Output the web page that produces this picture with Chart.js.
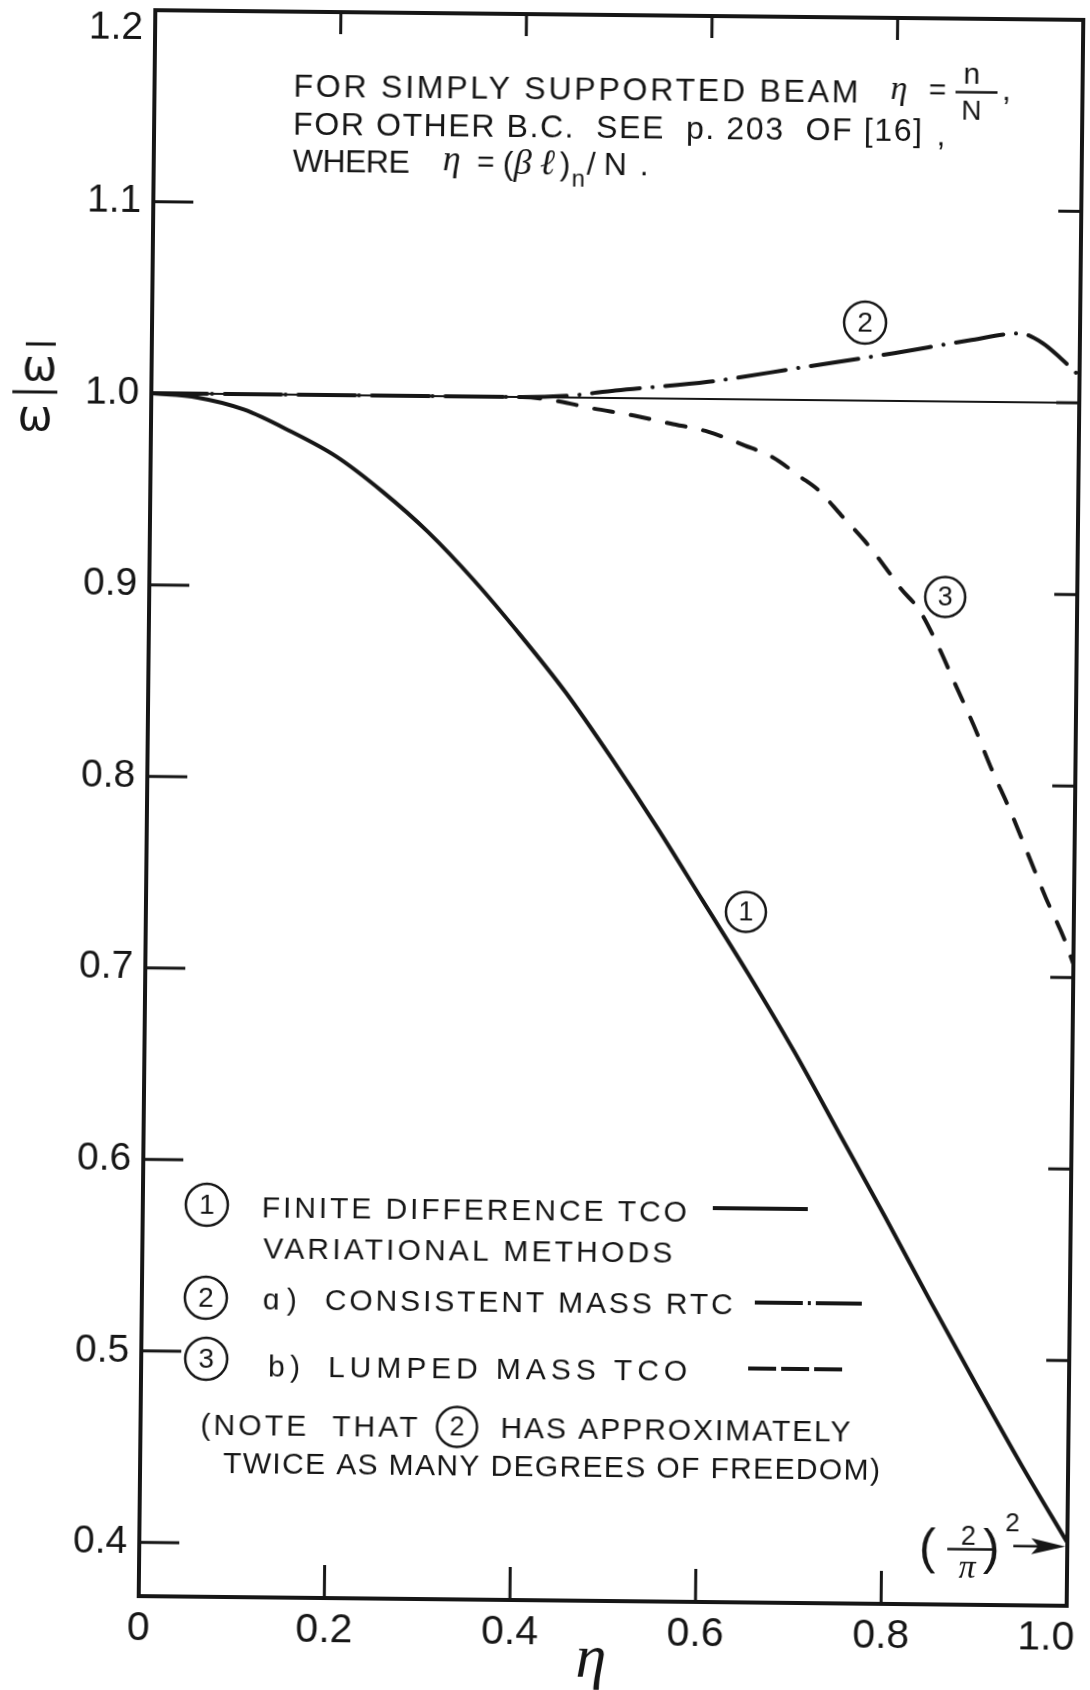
<!DOCTYPE html>
<html>
<head>
<meta charset="utf-8">
<title>Frequency ratio of discrete beam models</title>
<script src="https://cdn.jsdelivr.net/npm/chart.js"></script>
<style>
  html, body { margin: 0; padding: 0; background: #fff; overflow: hidden; }
  /* the plate sits a little skewed on the page */
  #plot { display: block; transform: rotate(0.6deg); transform-origin: 611px 808px; }
</style>
</head>
<body>
<canvas id="plot" width="1090" height="1690"></canvas>
<script>
// axis ticks
const xTicks = [0, 0.2, 0.4, 0.6, 0.8, 1.0];
const xTickLabels = ['0', '0.2', '0.4', '0.6', '0.8', '1.0'];
const yTicks = [0.4, 0.5, 0.6, 0.7, 0.8, 0.9, 1.0, 1.1, 1.2];
const yTickLabels = ['0.4', '0.5', '0.6', '0.7', '0.8', '0.9', '1.0', '1.1', '1.2'];

// (1) finite difference TCO / variational methods
const etaFD = [0, 0.05, 0.1, 0.15, 0.2, 0.25, 0.3, 0.35, 0.4, 0.45, 0.5, 0.55, 0.6, 0.65, 0.7, 0.75, 0.8, 0.85, 0.9, 0.95, 1.0];
const ratioFD = [1.000, 0.998, 0.992, 0.981, 0.968, 0.950, 0.929, 0.904, 0.876, 0.846, 0.812, 0.776, 0.738, 0.700, 0.660, 0.617, 0.574, 0.530, 0.487, 0.445, 0.405];

// (2) consistent mass RTC
const etaCM = [0, 0.1, 0.2, 0.3, 0.4, 0.45, 0.5, 0.6, 0.7, 0.8, 0.88, 0.935, 0.96, 0.98, 1.0];
const ratioCM = [1.000, 1.000, 1.000, 1.000, 1.000, 1.001, 1.004, 1.009, 1.017, 1.025, 1.032, 1.036, 1.031, 1.023, 1.014];

// (3) lumped mass TCO
const etaLM = [0, 0.2, 0.4, 0.44, 0.47, 0.52, 0.56, 0.6, 0.64, 0.67, 0.7, 0.72, 0.745, 0.77, 0.79, 0.81, 0.83, 0.85, 0.87, 0.89, 0.91, 0.93, 0.95, 0.97, 0.99, 1.0];
const ratioLM = [1.000, 1.000, 1.000, 0.998, 0.995, 0.991, 0.987, 0.983, 0.976, 0.970, 0.960, 0.953, 0.940, 0.927, 0.915, 0.902, 0.891, 0.873, 0.852, 0.831, 0.808, 0.787, 0.764, 0.741, 0.720, 0.707];

// exact ratio
const etaUnity = [0, 1];
const ratioUnity = [1, 1];

const INK = '#161616';
const SANS = '"Liberation Sans", Arial, sans-serif';
const SERIF = '"Liberation Serif", "Times New Roman", serif';

const pts = (xs, ys) => xs.map((x, i) => ({ x, y: ys[i] }));

// draw a string stretched between x0 and x1 with letter spacing
function spaced(ctx, str, x0, x1, y) {
  ctx.letterSpacing = '0px';
  const w = ctx.measureText(str).width;
  const n = [...str].length;
  const ls = n > 1 ? (x1 - x0 - w) / (n - 1) : 0;
  ctx.letterSpacing = ls.toFixed(2) + 'px';
  ctx.textAlign = 'left';
  ctx.fillText(str, x0, y);
  ctx.letterSpacing = '0px';
}

function circled(ctx, label, x, y, r, size) {
  ctx.save();
  ctx.lineWidth = 2.5;
  ctx.setLineDash([]);
  ctx.beginPath();
  ctx.arc(x, y, r, 0, Math.PI * 2);
  ctx.stroke();
  ctx.font = size + 'px ' + SANS;
  ctx.textAlign = 'center';
  ctx.textBaseline = 'middle';
  ctx.fillText(label, x, y + 1);
  ctx.restore();
}

function hline(ctx, x0, x1, y, width, dash) {
  ctx.save();
  ctx.lineWidth = width;
  ctx.setLineDash(dash || []);
  ctx.beginPath();
  ctx.moveTo(x0, y);
  ctx.lineTo(x1, y);
  ctx.stroke();
  ctx.restore();
}

const framePlugin = {
  id: 'frame',
  afterDraw(chart) {
    const { ctx, chartArea: a, scales: { x, y } } = chart;
    ctx.save();
    ctx.strokeStyle = INK;
    ctx.fillStyle = INK;

    // box
    ctx.lineWidth = 4;
    ctx.strokeRect(a.left, a.top, a.right - a.left, a.bottom - a.top);

    // inward tick marks
    ctx.lineWidth = 3;
    ctx.beginPath();
    xTicks.slice(1, -1).forEach(v => {
      const p = x.getPixelForValue(v);
      ctx.moveTo(p, a.bottom); ctx.lineTo(p, a.bottom - 33);
      ctx.moveTo(p, a.top); ctx.lineTo(p, a.top + 22);
    });
    yTicks.slice(0, -1).forEach(v => {
      const p = y.getPixelForValue(v);
      ctx.moveTo(a.left, p); ctx.lineTo(a.left + 40, p);
    });
    yTicks.slice(1, -1).forEach(v => {
      const p = y.getPixelForValue(v);
      ctx.moveTo(a.right, p); ctx.lineTo(a.right - 23, p);
    });
    ctx.stroke();

    // note at the top
    ctx.font = '32px ' + SANS;
    spaced(ctx, 'FOR SIMPLY SUPPORTED BEAM', 286, 851, 100);
    ctx.font = 'italic 34px ' + SERIF;
    ctx.fillText('η', 883, 96);
    ctx.font = '30px ' + SANS;
    ctx.textAlign = 'center';
    ctx.fillText('=', 930, 96);
    ctx.fillText('n', 964, 80);
    ctx.font = '28px ' + SANS;
    ctx.fillText('N', 964, 116);
    hline(ctx, 948, 990, 88.5, 2.5);
    ctx.font = '32px ' + SANS;
    ctx.fillText(',', 999, 96);

    spaced(ctx, 'FOR OTHER B.C.  SEE  p. 203  OF [16]', 286, 915, 138);
    ctx.textAlign = 'center';
    ctx.fillText(',', 934, 142);

    spaced(ctx, 'WHERE', 286, 403, 175);
    ctx.font = 'italic 36px ' + SERIF;
    ctx.textAlign = 'left';
    ctx.fillText('η', 436, 172);
    ctx.font = '30px ' + SANS;
    ctx.textAlign = 'center';
    ctx.fillText('=', 479, 173);
    ctx.font = '32px ' + SANS;
    ctx.textAlign = 'left';
    ctx.fillText('(', 496, 175);
    ctx.font = 'italic 36px ' + SERIF;
    spaced(ctx, 'βℓ', 507, 548, 175);
    ctx.font = '32px ' + SANS;
    ctx.fillText(')', 553, 175);
    ctx.font = '24px ' + SANS;
    ctx.fillText('n', 565, 187);
    ctx.font = '32px ' + SANS;
    spaced(ctx, '/N', 580, 620, 175);
    ctx.fillText('.', 633, 175);

    // key
    ctx.font = '30px ' + SANS;
    circled(ctx, '1', 211, 1209, 21, 28);
    spaced(ctx, 'FINITE DIFFERENCE TCO', 266, 691, 1221);
    spaced(ctx, 'VARIATIONAL METHODS', 268, 677, 1262);
    circled(ctx, '2', 211, 1302, 21, 28);
    spaced(ctx, 'ɑ)', 268, 302, 1313);
    spaced(ctx, 'CONSISTENT MASS RTC', 330, 738, 1313);
    circled(ctx, '3', 212, 1363, 21, 28);
    spaced(ctx, 'b)', 274, 306, 1380);
    spaced(ctx, 'LUMPED MASS TCO', 334, 693, 1380);
    spaced(ctx, '(NOTE  THAT', 207, 424, 1439);
    circled(ctx, '2', 463.5, 1428.5, 20, 27);
    spaced(ctx, 'HAS APPROXIMATELY', 507, 857, 1439);
    spaced(ctx, 'TWICE AS MANY DEGREES OF FREEDOM)', 230, 887, 1477);

    hline(ctx, 717, 812, 1207, 4);
    hline(ctx, 760, 867, 1301, 4, [48, 5, 3, 5]);
    hline(ctx, 754, 848, 1367, 4, [28, 5]);

    // curve tags
    circled(ctx, '1', 747, 910.5, 20, 27);
    circled(ctx, '2', 860, 320, 21, 28);
    circled(ctx, '3', 943, 593.5, 20, 27);

    // limit of curve (1): (2/pi)^2
    ctx.textAlign = 'center';
    ctx.font = '50px ' + SANS;
    ctx.fillText('(', 935, 1560);
    ctx.fillText(')', 999, 1560);
    ctx.font = '27px ' + SANS;
    ctx.fillText('2', 976, 1541);
    hline(ctx, 955, 1000, 1545.5, 2.5);
    ctx.font = 'italic 34px ' + SERIF;
    ctx.fillText('π', 975, 1574);
    ctx.font = '26px ' + SANS;
    ctx.fillText('2', 1020, 1527);
    const yA = y.getPixelForValue(ratioFD[ratioFD.length - 1]) + 4;
    const xA = a.right - 2;
    hline(ctx, 1021, xA - 20, yA, 2.5);
    ctx.beginPath();
    ctx.moveTo(xA, yA);
    ctx.lineTo(xA - 34, yA - 8);
    ctx.lineTo(xA - 27, yA);
    ctx.lineTo(xA - 34, yA + 8);
    ctx.closePath();
    ctx.fill();

    // axis titles
    ctx.font = '42px "DejaVu Sans", ' + SANS;
    ctx.fillText('ω', 35, 386);
    ctx.fillText('ω', 31, 436);
    hline(ctx, 21, 51, 350, 3);
    hline(ctx, 8, 53, 398, 3);
    ctx.font = 'italic 62px ' + SERIF;
    ctx.fillText('η', 600, 1677);

    ctx.restore();
  }
};

new Chart(document.getElementById('plot'), {
  type: 'line',
  data: {
    datasets: [
      { data: pts(etaUnity, ratioUnity), borderColor: INK, borderWidth: 2 },
      { data: pts(etaFD, ratioFD), borderColor: INK, borderWidth: 4,
        cubicInterpolationMode: 'monotone' },
      { data: pts(etaCM, ratioCM), borderColor: INK, borderWidth: 4,
        borderDash: [48, 12.7, 0.1, 12.7], borderCapStyle: 'round',
        cubicInterpolationMode: 'monotone' },
      { data: pts(etaLM, ratioLM), borderColor: INK, borderWidth: 4,
        borderDash: [19, 18], borderCapStyle: 'round',
        cubicInterpolationMode: 'monotone' }
    ]
  },
  options: {
    responsive: false,
    animation: false,
    devicePixelRatio: 1,
    layout: { padding: { top: 15, right: 15, left: 0, bottom: 0 } },
    elements: { point: { radius: 0 } },
    plugins: { legend: { display: false }, tooltip: { enabled: false } },
    scales: {
      x: {
        type: 'linear', min: 0, max: 1,
        grid: { display: false, drawTicks: false },
        border: { display: false },
        afterBuildTicks: s => { s.ticks = xTicks.map(v => ({ value: v })); },
        afterFit: s => { s.height = 89; s.paddingLeft = 0; s.paddingRight = 0; },
        ticks: {
          autoSkip: false, maxRotation: 0, padding: 8, color: INK,
          font: { family: SANS, size: 41 },
          callback: v => {
            const i = xTicks.indexOf(v);
            return i === xTicks.length - 1 ? xTickLabels[i] + '\u2003' : xTickLabels[i];
          }
        }
      },
      y: {
        type: 'linear', min: 0.372, max: 1.2,
        grid: { display: false, drawTicks: false },
        border: { display: false },
        afterBuildTicks: s => { s.ticks = yTicks.map(v => ({ value: v })); },
        afterFit: s => { s.width = 147; s.paddingTop = 0; s.paddingBottom = 0; },
        ticks: {
          autoSkip: false, padding: 12, color: INK,
          font: { family: SANS, size: 39, lineHeight: 0.92 },
          callback: v => {
            const i = yTicks.indexOf(v);
            return i === yTicks.length - 1 ? ['', yTickLabels[i]] : yTickLabels[i];
          }
        }
      }
    }
  },
  plugins: [framePlugin]
});
</script>
</body>
</html>
